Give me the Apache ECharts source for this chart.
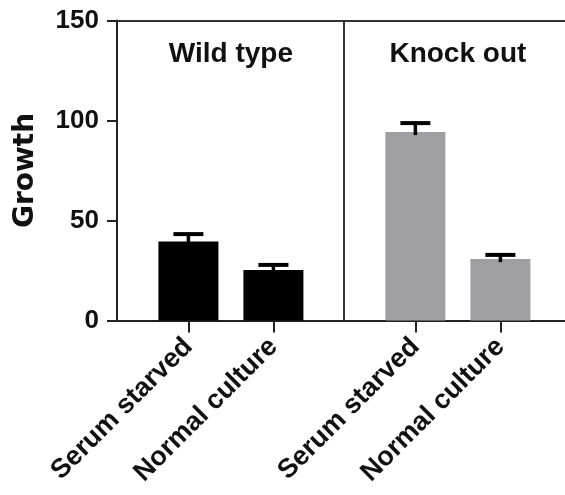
<!DOCTYPE html>
<html>
<head>
<meta charset="utf-8">
<script src="https://cdn.jsdelivr.net/npm/echarts@6/dist/echarts.min.js"></script>
<style>html,body{margin:0;padding:0;background:#fff}#c{width:565px;height:495px}</style>
</head>
<body>
<div id="c"></div>
<script>
const groups = ['Wild type', 'Knock out'];
const conditions = ['Serum starved', 'Normal culture'];
const growth = [[39.5, 25.3], [94.2, 30.7]];
const sem = [[3.7, 2.5], [4.5, 2.1]];
const yTicks = [0, 50, 100, 150];
const groupColors = ['#000000', '#9e9ea3'];

const FONT = '"Liberation Sans", Arial, sans-serif';
const NAME_FONT = '"DejaVu Sans", sans-serif';
const groupStride = 2.67;
const pos = (g, b) => g * groupStride + b;

const barData = [], errData = [], tickPos = [], tickName = {};
groups.forEach((gName, g) => {
  conditions.forEach((c, b) => {
    const x = pos(g, b);
    barData.push({value: [x, growth[g][b]], itemStyle: {color: groupColors[g]}});
    errData.push([x, growth[g][b], sem[g][b]]);
    tickPos.push(x);
    tickName[x.toFixed(2)] = c;
  });
});
const titleData = groups.map((gName, g) => ({value: [pos(g, 0.5), 133], name: gName}));
const dividerX = (pos(0, 1) + pos(1, 0)) / 2;

const chart = echarts.init(document.getElementById('c'), null, {renderer: 'canvas'});
chart.setOption({
  animation: false,
  grid: {left: 117, right: 0, top: 20.5, bottom: 174.5},
  xAxis: [{
    type: 'value', min: -0.84, max: 4.43,
    splitLine: {show: false},
    axisLine: {show: true, onZero: false, lineStyle: {color: '#222', width: 2}},
    axisTick: {show: true, customValues: tickPos, length: 12, lineStyle: {color: '#222', width: 2}},
    axisLabel: {
      customValues: tickPos, rotate: 45, margin: 22,
      fontFamily: FONT, fontWeight: 'bold', fontSize: 27, color: '#111',
      formatter: v => tickName[Number(v).toFixed(2)] || ''
    }
  }, {
    type: 'value', min: -0.84, max: 4.43, position: 'top',
    splitLine: {show: false},
    axisLine: {show: true, onZero: false, lineStyle: {color: '#333', width: 2}},
    axisTick: {show: false}, axisLabel: {show: false}
  }],
  yAxis: {
    type: 'value', min: 0, max: 150, interval: 50,
    name: 'Growth', nameLocation: 'middle', nameGap: 77, nameRotate: 90,
    nameTextStyle: {fontFamily: NAME_FONT, fontWeight: 'bold', fontSize: 28, color: '#111'},
    splitLine: {show: false},
    axisLine: {show: true, onZero: false, lineStyle: {color: '#222', width: 2}},
    axisTick: {show: true, length: 10, lineStyle: {color: '#222', width: 2}},
    axisLabel: {margin: 18, fontFamily: FONT, fontWeight: 'bold', fontSize: 26, color: '#111',
      customValues: yTicks}
  },
  series: [{
    type: 'bar', data: barData, barWidth: 60, z: 2,
    markLine: {
      silent: true, symbol: 'none', label: {show: false},
      lineStyle: {color: '#333', width: 2, type: 'solid'},
      data: [{xAxis: dividerX}]
    }
  }, {
    type: 'custom', data: errData, z: 3,
    renderItem: (params, api) => {
      const x = api.value(0), v = api.value(1), e = api.value(2);
      const base = api.coord([x, v]);
      const top = api.coord([x, v + e]);
      return {type: 'group', children: [
        {type: 'line', shape: {x1: base[0], y1: base[1] + 3, x2: top[0], y2: top[1]},
          style: {stroke: '#000', lineWidth: 3.5}},
        {type: 'line', shape: {x1: top[0] - 15, y1: top[1], x2: top[0] + 15, y2: top[1]},
          style: {stroke: '#000', lineWidth: 4}}
      ]};
    }
  }, {
    type: 'scatter', data: titleData, symbolSize: 0, silent: true,
    itemStyle: {opacity: 1},
    label: {show: true, position: 'inside', formatter: p => p.name, opacity: 1,
      fontFamily: FONT, fontWeight: 'bold', fontSize: 28, color: '#111'}
  }]
});
</script>
</body>
</html>
